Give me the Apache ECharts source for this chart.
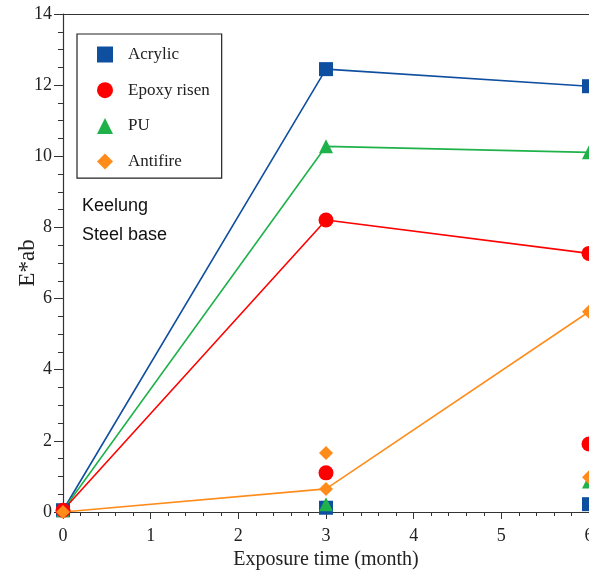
<!DOCTYPE html>
<html><head><meta charset="utf-8">
<script src="https://cdn.jsdelivr.net/npm/echarts@6/dist/echarts.min.js"></script>
<style>html,body{margin:0;padding:0;background:#fff}#c{width:589px;height:576px}</style>
</head><body><div id="c"></div>
<script>
const months = [0, 3, 6];
const acrylic = [0.05, 12.45, 11.97];
const epoxy = [0.05, 8.21, 7.27];
const pu = [0.05, 10.28, 10.11];
const antifire = [0.0, 0.65, 5.63];
// separate (unconnected) points
const acrylicPts = [[3, 0.12], [6, 0.22]];
const epoxyPts = [[3, 1.10], [6, 1.91]];
const puPts = [[3, 0.22], [6, 0.86]];
const antifirePts = [[3, 1.66], [6, 0.98]];
const xTicks = [0, 1, 2, 3, 4, 5, 6];
const yTicks = [0, 2, 4, 6, 8, 10, 12, 14];

const colors = {Acrylic:'#0f4fa0', 'Epoxy risen':'#ff0000', PU:'#1fb24a', Antifire:'#ff8c1a'};
const symbols = {Acrylic:'rect', 'Epoxy risen':'circle', PU:'triangle', Antifire:'diamond'};
const sizes = {Acrylic:14, 'Epoxy risen':15, PU:14, Antifire:14};
const serif = '"Liberation Serif","DejaVu Serif",serif';
const sans = '"Liberation Sans",Arial,sans-serif';

function lineSeries(name, vals){
  return {name, type:'line', data: months.map((m,i)=>[m, vals[i]]),
    symbol: symbols[name], symbolSize: sizes[name], showSymbol:true,
    lineStyle:{color:colors[name], width:1.6}, itemStyle:{color:colors[name], opacity:1},
    clip:true, z: 3};
}
function ptSeries(name, pts){
  return {name: name+'_pts', type:'scatter', data: pts,
    symbol: symbols[name], symbolSize: sizes[name], itemStyle:{color:colors[name], opacity:1}, z:3};
}
const legendNames = ['Acrylic','Epoxy risen','PU','Antifire'];
const chart = echarts.init(document.getElementById('c'), null, {renderer:'canvas'});
chart.setOption({
  animation:false,
  backgroundColor:'#fff',
  grid:{left:63, top:14, right:0, bottom:64, containLabel:false, outerBoundsMode:'none'},
  legend:{
    data: legendNames.map(n=>({name:n, icon:symbols[n]})),
    orient:'vertical', left:77, top:34,
    padding:[12, 12, 8, 20], itemGap:18.7, itemWidth:16, itemHeight:16,
    borderColor:'#222', borderWidth:1.2,
    textStyle:{fontFamily:serif, fontSize:17, color:'#222', padding:[0,0,0,10]}
  },
  xAxis:[{
    type:'value', min:0, max:6, interval:1,
    name:'Exposure time (month)', nameLocation:'middle', nameGap:38, nameMoveOverlap:false,
    nameTextStyle:{fontFamily:serif, fontSize:20, color:'#222'},
    axisLine:{show:true, lineStyle:{color:'#333', width:1.2}},
    axisTick:{show:true, length:7, inside:false, lineStyle:{color:'#333'}},
    minorTick:{show:true, splitNumber:5, length:4, lineStyle:{color:'#333'}},
    axisLabel:{fontFamily:serif, fontSize:18, color:'#222', margin:15,
      formatter:v=> xTicks.includes(v)? String(v):''},
    splitLine:{show:false}
  },{
    type:'value', position:'top', min:0, max:6,
    axisLine:{show:true, onZero:false, lineStyle:{color:'#333', width:1.2}},
    axisTick:{show:false}, axisLabel:{show:false}, splitLine:{show:false}
  }],
  yAxis:{
    type:'value', min:0, max:14, interval:2,
    name:'E*ab', nameLocation:'middle', nameGap:24, nameRotate:90, nameMoveOverlap:false,
    nameTextStyle:{fontFamily:serif, fontSize:23, color:'#222'},
    axisLine:{show:true, lineStyle:{color:'#333', width:1.2}},
    axisTick:{show:true, length:9, lineStyle:{color:'#333'}},
    minorTick:{show:true, splitNumber:4, length:5, lineStyle:{color:'#333'}},
    axisLabel:{fontFamily:serif, fontSize:18, color:'#222', margin:11,
      formatter:v=> yTicks.includes(v)? String(v):''},
    splitLine:{show:false}
  },
  graphic:[
    {type:'text', left:82, top:197, style:{text:'Keelung', fontFamily:sans, fontSize:18, fill:'#111'}},
    {type:'text', left:82, top:226, style:{text:'Steel base', fontFamily:sans, fontSize:18, fill:'#111'}}
  ],
  series:[
    lineSeries('Acrylic', acrylic), ptSeries('Acrylic', acrylicPts),
    lineSeries('PU', pu), ptSeries('PU', puPts),
    lineSeries('Epoxy risen', epoxy), ptSeries('Epoxy risen', epoxyPts),
    lineSeries('Antifire', antifire), ptSeries('Antifire', antifirePts)
  ]
});
</script></body></html>
